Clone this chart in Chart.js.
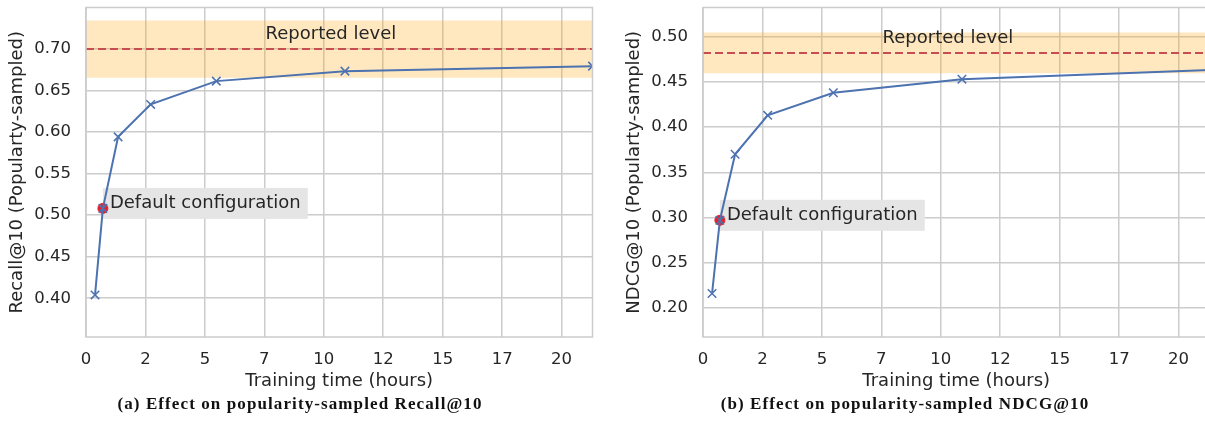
<!DOCTYPE html>
<html>
<head>
<meta charset="utf-8">
<script src="https://cdn.jsdelivr.net/npm/chart.js@4.4.1/dist/chart.umd.min.js"></script>
<style>
  body { margin: 0; width: 1205px; height: 433px; overflow: hidden; background: #fff; position: relative; }
  .panel { position: absolute; top: 0; width: 600px; height: 400px; }
  .caption { position: absolute; top: 394px; width: 600px; text-align: center; letter-spacing: 1.1px;
             font-family: "Liberation Serif", serif; font-weight: bold; font-size: 17px; color: #111; }
</style>
</head>
<body>
<div class="panel" style="left:0"><canvas id="recall" width="600" height="400"></canvas></div>
<div class="panel" style="left:617px"><canvas id="ndcg" width="600" height="400"></canvas></div>
<div class="caption" style="left:0">(a) Effect on popularity-sampled Recall@10</div>
<div class="caption" style="left:605px">(b) Effect on popularity-sampled NDCG@10</div>
<script>
// values
const hours = [0.38, 0.71, 1.35, 2.72, 5.48, 10.89, 21.3];
const recall = [0.404, 0.508, 0.594, 0.633, 0.661, 0.673, 0.679];
const ndcg = [0.216, 0.297, 0.370, 0.413, 0.438, 0.453, 0.463];

const defaultHours = 0.71;
const defaultRecall = 0.508;
const defaultNdcg = 0.297;

const reportedRecall = 0.6995;
const reportedNdcg = 0.482;
const recallBand = [0.665, 0.734];
const ndcgBand = [0.4594, 0.5046];
const reportedLabelHours = 10.3;

const xLimits = [0, 21.3];
const recallLimits = [0.3534, 0.7495];
const ndcgLimits = [0.168, 0.5322];
const xTickLabels = ['0', '2', '5', '7', '10', '12', '15', '17', '20'];

const ink = '#262626';
Chart.defaults.font.family = '"DejaVu Sans", sans-serif';
Chart.defaults.color = ink;

// gray label box, "Reported level" text and the axes frame
const notes = {
    id: 'notes',
    beforeDatasetsDraw(chart, args, opts) {
        const {ctx, scales: {x, y}} = chart;
        const px = x.getPixelForValue(opts.defaultX);
        const py = y.getPixelForValue(opts.defaultY);
        ctx.save();
        ctx.font = '18px "DejaVu Sans"';
        const w = ctx.measureText('Default configuration').width;
        const cy = py - 5;
        ctx.fillStyle = '#e5e5e5';
        ctx.fillRect(px, cy - 15.5, w + 14, 31);
        ctx.fillStyle = ink;
        ctx.textBaseline = 'middle';
        ctx.fillText('Default configuration', px + 7, cy);
        ctx.restore();
    },
    afterDatasetsDraw(chart, args, opts) {
        const {ctx, chartArea: a, scales: {x, y}} = chart;
        ctx.save();
        ctx.font = '18px "DejaVu Sans"';
        ctx.fillStyle = ink;
        ctx.textAlign = 'center';
        ctx.textBaseline = 'middle';
        ctx.fillText('Reported level', x.getPixelForValue(reportedLabelHours), y.getPixelForValue(opts.reported) - 14.5);
        ctx.strokeStyle = '#cccccc';
        ctx.lineWidth = 1.5;
        ctx.strokeRect(a.left, a.top, a.right - a.left, a.bottom - a.top);
        ctx.restore();
    }
};

function makeChart(id, values, defaultY, reported, band, yLimits, yTitle) {
    const pts = hours.map((h, i) => ({x: h, y: values[i]}));
    return new Chart(document.getElementById(id), {
        type: 'scatter',
        data: {
            datasets: [
                {   // reported band
                    data: [{x: xLimits[0], y: band[1]}, {x: xLimits[1], y: band[1]}],
                    showLine: true, borderWidth: 0, pointRadius: 0,
                    fill: {value: band[0]},
                    backgroundColor: 'rgba(255,165,0,0.25)',
                    order: 5
                },
                {   // reported level
                    data: [{x: xLimits[0], y: reported}, {x: xLimits[1], y: reported}],
                    showLine: true, borderColor: '#c44e52', borderWidth: 2,
                    borderDash: [8, 4], pointRadius: 0, order: 4
                },
                {   // default configuration
                    data: [{x: defaultHours, y: defaultY}],
                    pointStyle: 'circle', pointRadius: 5,
                    backgroundColor: '#e8202a', borderColor: '#e8202a', order: 3
                },
                {
                    data: pts,
                    showLine: true, borderColor: '#4c72b0', borderWidth: 2,
                    pointStyle: 'crossRot', pointRadius: 6, pointBorderWidth: 1.5,
                    pointBorderColor: '#4c72b0', order: 1
                }
            ]
        },
        options: {
            responsive: false,
            animation: false,
            devicePixelRatio: 1,
            layout: {padding: {top: 7, right: 7, left: 0, bottom: 0}},
            plugins: {
                legend: {display: false},
                tooltip: {enabled: false},
                notes: {defaultX: defaultHours, defaultY: defaultY, reported: reported}
            },
            scales: {
                x: {
                    type: 'linear', min: xLimits[0], max: xLimits[1],
                    afterFit: s => { s.height = 63; s.paddingLeft = 0; s.paddingRight = 0; },
                    border: {display: false},
                    grid: {color: '#cccccc', lineWidth: 1.5, drawTicks: false},
                    ticks: {
                        stepSize: 2.5, includeBounds: false, padding: 13,
                        font: {size: 16.5}, maxRotation: 0,
                        callback: (v, i) => xTickLabels[i]
                    },
                    title: {display: true, text: 'Training time (hours)', font: {size: 18},
                            padding: {top: 0, bottom: 8}}
                },
                y: {
                    min: yLimits[0], max: yLimits[1],
                    afterFit: s => { s.width = 86; s.paddingTop = 0; s.paddingBottom = 0; },
                    border: {display: false},
                    grid: {color: '#cccccc', lineWidth: 1.5, drawTicks: false},
                    ticks: {
                        stepSize: 0.05, includeBounds: false, padding: 15,
                        font: {size: 16.5},
                        callback: v => v.toFixed(2)
                    },
                    title: {display: true, text: yTitle, font: {size: 18},
                            padding: {top: 7, bottom: 0}}
                }
            }
        },
        plugins: [notes]
    });
}

makeChart('recall', recall, defaultRecall, reportedRecall, recallBand, recallLimits,
          'Recall@10 (Popularty-sampled)');
makeChart('ndcg', ndcg, defaultNdcg, reportedNdcg, ndcgBand, ndcgLimits,
          'NDCG@10 (Popularty-sampled)');
</script>
</body>
</html>
